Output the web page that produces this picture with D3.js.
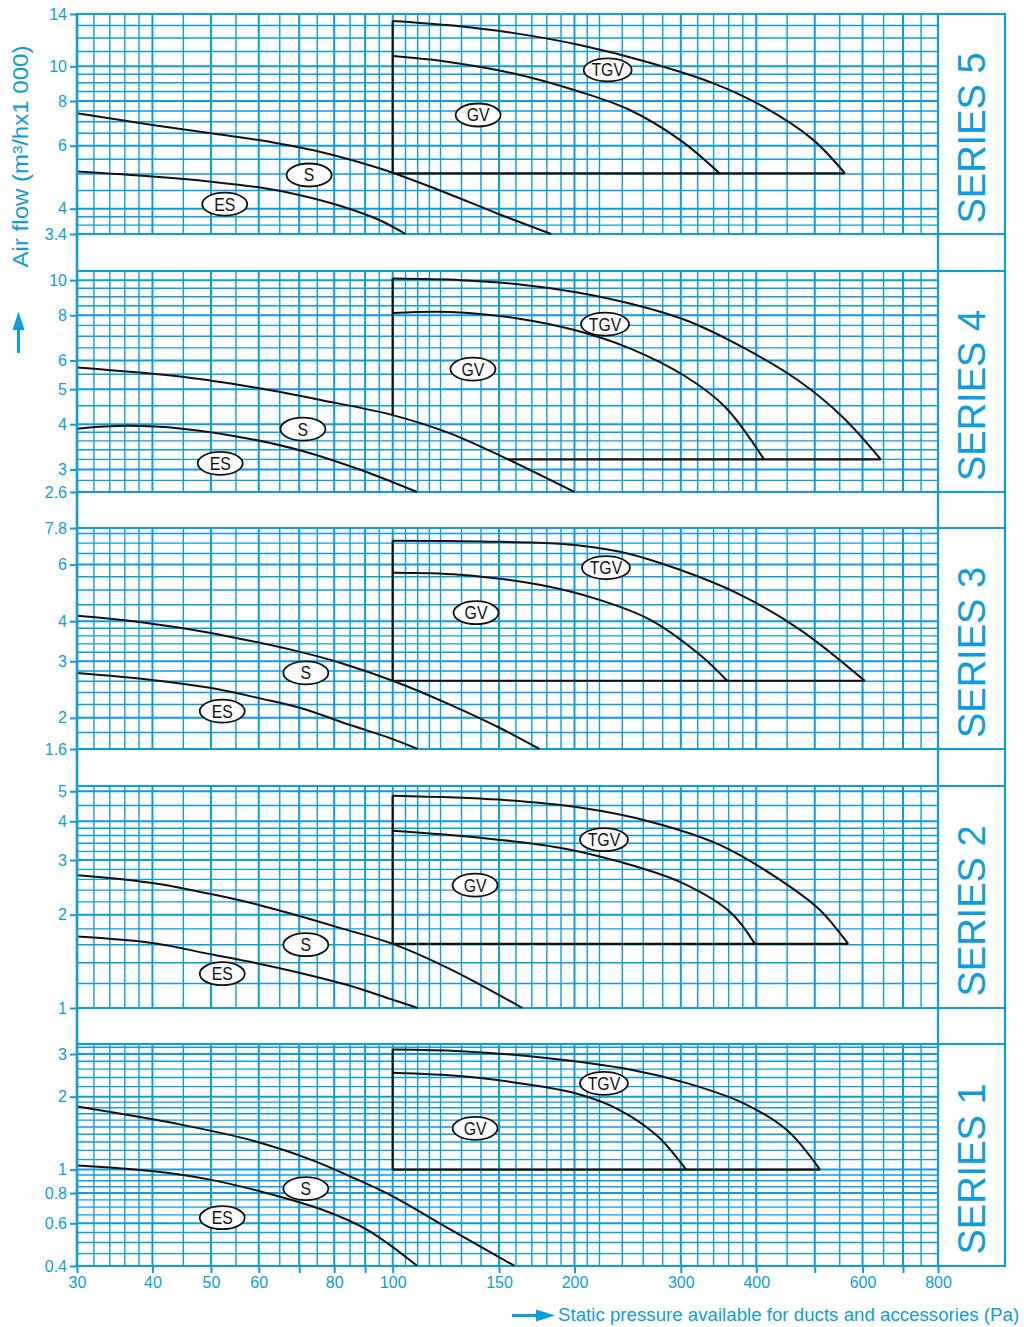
<!DOCTYPE html>
<html><head><meta charset="utf-8">
<script src="https://cdn.jsdelivr.net/npm/d3@7"></script>
<style>body{margin:0;background:#fff}</style>
</head><body><svg id="c" width="1024" height="1327"></svg>
<script>
// ---------------- DATA ----------------
const xTickLabels = [30,40,50,60,80,100,150,200,300,400,600,800];
const xMajor = [30,40,50,60,70,80,90,100,150,200,300,400,500,600,700,800];
const xGrid = [30,32,34,36,38,40,45,50,55,60,65,70,75,80,85,90,95,100,105,110,115,120,130,140,150,160,170,180,190,200,210,220,240,260,280,300,320,340,360,380,400,450,500,550,600,650,700,750,800];

const seriesNames = ["SERIES 5","SERIES 4","SERIES 3","SERIES 2","SERIES 1"];
const yDomains = [[3.4,14],[2.6,10.6],[1.6,7.8],[1,5.2],[0.4,3.3]];
const yTickLabels = [
  [14,10,8,6,4,3.4],
  [10,8,6,5,4,3,2.6],
  [7.8,6,4,3,2,1.6],
  [5,4,3,2,1],
  [3,2,1,0.8,0.6,0.4]
];
const yGrid = [
  [3.4,3.6,3.8,4,4.5,5,5.5,6,6.5,7,7.5,8,8.5,9,9.5,10,11,12,13,14],
  [2.6,2.8,3,3.2,3.4,3.6,3.8,4,4.5,5,5.5,6,6.5,7,7.5,8,8.5,9,9.5,10,10.6],
  [1.6,1.8,2,2.2,2.4,2.6,2.8,3,3.2,3.4,3.6,3.8,4,4.5,5,5.5,6,6.5,7,7.5,7.8],
  [1,1.2,1.4,1.6,1.8,2,2.2,2.4,2.6,2.8,3,3.2,3.4,3.6,3.8,4,4.5,5,5.2],
  [0.4,0.45,0.5,0.55,0.6,0.65,0.7,0.75,0.8,0.85,0.9,0.95,1,1.1,1.2,1.3,1.4,1.5,1.6,1.7,1.8,1.9,2,2.2,2.4,2.6,2.8,3,3.2,3.3]
];

// curves: [pressure Pa, airflow m3/h x1000]
const curveES = [
  [[30,5.08],[40,4.92],[50,4.76],[60,4.59],[70,4.37],[82,4.07],[95,3.72],[105,3.4]],
  [[30,3.89],[36.2,3.96],[44.8,3.89],[57.8,3.65],[71.6,3.36],[88.6,2.99],[109.7,2.6]],
  [[30,2.76],[39.6,2.63],[49.8,2.48],[60.3,2.30],[70.2,2.15],[85,1.9],[99,1.73],[110,1.6]],
  [[30,1.70],[40,1.62],[50,1.49],[60,1.39],[70,1.30],[85,1.18],[99,1.07],[110,1.0]],
  [[30,1.04],[40.2,0.984],[49.8,0.909],[61.7,0.801],[76.3,0.684],[90.6,0.565],[109.7,0.401]]
];
const curveS = [
  [[30,7.39],[40,6.86],[50,6.5],[60,6.22],[76,5.76],[95,5.19],[100,5.04],[123,4.42],[149,3.88],[183,3.4]],
  [[30,5.74],[44.8,5.41],[59.1,5.05],[76.3,4.66],[100,4.24],[124.7,3.77],[154,3.22],[200,2.6]],
  [[30,4.16],[37.2,4.0],[45,3.80],[54.5,3.56],[70.2,3.21],[81.8,2.97],[100,2.61],[124.4,2.2],[150.5,1.86],[175,1.6]],
  [[30,2.68],[40,2.53],[50,2.33],[60,2.15],[70,1.98],[82,1.81],[100,1.61],[124,1.34],[164,1.0]],
  [[30,1.82],[44.8,1.53],[59.1,1.31],[73.2,1.10],[85,0.938],[100,0.776],[124.7,0.565],[159,0.401]]
];
const curveGV = [
  [[100,10.68],[123,10.3],[158,9.56],[204,8.49],[247,7.55],[299,6.23],[348,5.02]],
  [[100,8.12],[124.7,8.17],[161,7.84],[200,7.28],[247,6.48],[306,5.41],[355,4.47],[412,3.2]],
  [[100,5.66],[129,5.58],[175,5.19],[220,4.66],[267,4.04],[323,3.14],[358,2.61]],
  [[100,3.73],[140,3.54],[189,3.29],[238,2.96],[299,2.55],[362,2.04],[398,1.61]],
  [[100,2.51],[130,2.43],[161,2.28],[200,2.07],[236.7,1.77],[275,1.37],[306,1.0]]
];
const curveTGV = [
  [[100,13.39],[123,13.04],[158,12.4],[204,11.47],[263,10.3],[340,8.96],[411,7.71],[497,6.23],[561,5.02]],
  [[100,10.1],[130,10],[161,9.75],[200,9.28],[247,8.62],[306,7.75],[379,6.54],[469,5.29],[556,4.19],[643,3.2]],
  [[100,7.12],[139.5,7.08],[189,6.97],[238,6.58],[299,5.78],[376,4.84],[473,3.76],[605,2.61]],
  [[100,4.84],[150,4.70],[204,4.43],[267,3.99],[348,3.36],[438,2.59],[510,2.07],[568,1.61]],
  [[100,3.13],[130,3.08],[179.5,2.89],[247,2.59],[306,2.28],[379,1.89],[449,1.46],[510,1.0]]
];
// operating-range frame: vertical at 100 Pa and horizontal base
const frameVertical = [
  [[100,13.39],[100,5.02]],
  [[100,10.1],[100,4.24]],
  [[100,7.12],[100,2.61]],
  [[100,4.84],[100,1.61]],
  [[100,3.13],[100,1.0]]
];
const frameBase = [
  [[100,5.02],[561,5.02]],
  [[155,3.2],[643,3.2]],
  [[100,2.61],[605,2.61]],
  [[100,1.61],[568,1.61]],
  [[100,1.0],[510,1.0]]
];
const labelNames = ["ES","S","GV","TGV"];
const labelPos = [
  [[52.7,4.12],[72.7,4.97],[138.5,7.31],[227,9.77]],
  [[51.8,3.12],[71,3.88],[135.8,5.68],[224.7,7.56]],
  [[52.2,2.10],[71.8,2.76],[137.4,4.25],[225.5,5.87]],
  [[52.2,1.29],[71.8,1.60],[136.9,2.49],[223.8,3.49]],
  [[52.2,0.633],[71.8,0.835],[136.9,1.48],[223.8,2.27]]
];

// ---------------- LAYOUT ----------------
const BLUE = "#0a9de0";
const FONT = "'Liberation Sans', Arial, Helvetica, sans-serif";
const L = 77, R = 938, RB = 1005;
const panelBox = [[14,234],[271,492],[528,749],[786,1008],[1044,1266]];

const svg = d3.select("#c");
const x = d3.scaleLog().domain([30,800]).range([L,R]);
const line = (ys) => d3.line().x(d=>x(d[0])).y(d=>ys(d[1])).curve(d3.curveCatmullRom.alpha(0.5));
const straight = (ys) => d3.line().x(d=>x(d[0])).y(d=>ys(d[1]));

const gGrid = svg.append("g");
const gFrame = svg.append("g");
const gCurves = svg.append("g");
const gLabels = svg.append("g");

panelBox.forEach((pb, i) => {
  const [top, bot] = pb;
  const y = d3.scaleLog().domain(yDomains[i]).range([bot, top]);
  const p = gGrid.append("g");
  p.selectAll("line.v").data(xGrid).join("line")
    .attr("x1", d=>x(d)).attr("x2", d=>x(d)).attr("y1", top).attr("y2", bot)
    .attr("stroke", BLUE).attr("stroke-width", d=>xMajor.includes(d)?2:1.4);
  p.selectAll("line.h").data(yGrid[i]).join("line")
    .attr("x1", L).attr("x2", R).attr("y1", d=>y(d)).attr("y2", d=>y(d))
    .attr("stroke", BLUE).attr("stroke-width", d=>yTickLabels[i].includes(d)?2:1.4);
  [top, bot].forEach(yy => p.append("line").attr("x1", L).attr("x2", RB).attr("y1", yy).attr("y2", yy)
    .attr("stroke", BLUE).attr("stroke-width", 2.2));
  const yAxis = d3.axisLeft(y).tickValues(yTickLabels[i]).tickSize(7).tickPadding(3)
    .tickFormat(d => String(d));
  const ga = p.append("g").attr("transform", `translate(${L},0)`).call(yAxis);
  ga.select(".domain").remove();
  ga.selectAll(".tick line").attr("stroke", BLUE).attr("stroke-width", 2);
  ga.selectAll(".tick text").attr("fill", BLUE).attr("font-family", FONT).attr("font-size", 16);
  p.append("text").attr("transform", `translate(${(R+RB)/2 + 13.5},${(top+bot)/2 + 14}) rotate(-90)`)
    .attr("text-anchor","middle").attr("fill", BLUE).attr("font-family", FONT)
    .attr("font-size", 38).text(seriesNames[i]);

  gFrame.append("path").attr("d", straight(y)(frameVertical[i])).attr("fill","none")
    .attr("stroke","#111").attr("stroke-width",2.2);
  gFrame.append("path").attr("d", straight(y)(frameBase[i])).attr("fill","none")
    .attr("stroke","#111").attr("stroke-width",2.2);
  [curveES[i], curveS[i], curveGV[i], curveTGV[i]].forEach(c => {
    gCurves.append("path").attr("d", line(y)(c)).attr("fill","none")
      .attr("stroke","#111").attr("stroke-width",2);
  });
  labelPos[i].forEach((lp, k) => {
    const cx = x(lp[0]), cy = y(lp[1]);
    const rx = labelNames[k] === "TGV" ? 24 : 22.5;
    gLabels.append("ellipse").attr("cx", cx).attr("cy", cy).attr("rx", rx).attr("ry", 11.5)
      .attr("fill","#fff").attr("stroke","#111").attr("stroke-width",1.8);
    gLabels.append("text").attr("x", cx).attr("y", cy + 6.5).attr("text-anchor","middle")
      .attr("font-family", FONT).attr("font-size", 18).attr("fill","#111")
      .attr("transform", `translate(${cx},${cy}) scale(0.88,1) translate(${-cx},${-cy})`)
      .text(labelNames[k]);
  });
});

[[L,2.6],[R,2.2],[RB,2.2]].forEach(([xx,w]) => svg.append("line")
  .attr("x1",xx).attr("x2",xx).attr("y1",13).attr("y2",1267)
  .attr("stroke",BLUE).attr("stroke-width",w));

const xAxis = d3.axisBottom(x).tickValues(xMajor).tickSize(7).tickPadding(4)
  .tickFormat(d => xTickLabels.includes(d) ? String(d) : "");
const gx = svg.append("g").attr("transform", `translate(0,${panelBox[4][1]})`).call(xAxis);
gx.select(".domain").remove();
gx.selectAll(".tick line").attr("stroke", BLUE).attr("stroke-width", 2);
gx.selectAll(".tick text").attr("fill", BLUE).attr("font-family", FONT).attr("font-size", 16);

svg.append("text").attr("transform","translate(28,156.5) rotate(-90)").attr("text-anchor","middle")
  .attr("fill",BLUE).attr("font-family",FONT).attr("font-size",22)
  .attr("textLength",222).attr("lengthAdjust","spacingAndGlyphs").text("Air flow (m³/hx1 000)");
svg.append("line").attr("x1",18.5).attr("x2",18.5).attr("y1",353).attr("y2",326)
  .attr("stroke",BLUE).attr("stroke-width",3);
svg.append("path").attr("d","M18.5,311.5 L12.5,330 L24.5,330 Z").attr("fill",BLUE);

svg.append("line").attr("x1",512).attr("x2",540).attr("y1",1315.5).attr("y2",1315.5)
  .attr("stroke",BLUE).attr("stroke-width",3);
svg.append("path").attr("d","M555,1315.5 L536,1309.5 L536,1321.5 Z").attr("fill",BLUE);
svg.append("text").attr("x",558).attr("y",1321).attr("fill",BLUE).attr("font-family",FONT)
  .attr("font-size",18.7).text("Static pressure available for ducts and accessories (Pa)");
</script></body></html>
